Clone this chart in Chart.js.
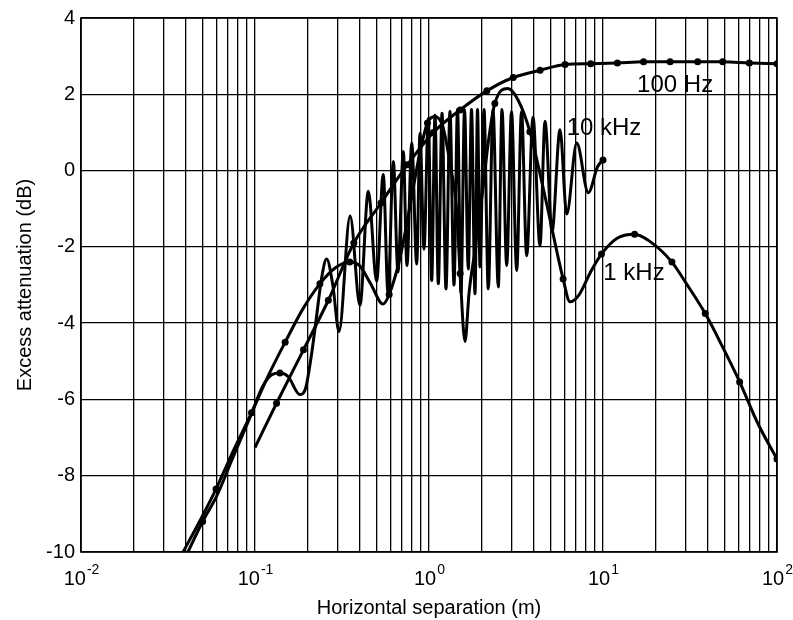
<!DOCTYPE html>
<html>
<head>
<meta charset="utf-8">
<script src="https://cdn.jsdelivr.net/npm/chart.js@4.4.1/dist/chart.umd.min.js"></script>
<style>
  html, body { margin: 0; padding: 0; background: #fff; }
</style>
</head>
<body>
<canvas id="chart" width="793" height="620"></canvas>
<script>
// x: horizontal separation (m), y: excess attenuation (dB)
const hz100X = [0.1, 0.133, 0.19, 0.264, 0.37, 0.53, 0.75, 1.06, 1.51, 2.15, 3.05, 4.35, 6.05, 8.5, 12.1, 17.1, 24.3, 35, 48.7, 69.3, 100];
const hz100Y = [-7.26, -6.1, -4.7, -3.4, -1.9, -0.85, 0.15, 1.0, 1.59, 2.09, 2.44, 2.63, 2.78, 2.8, 2.82, 2.85, 2.85, 2.85, 2.85, 2.82, 2.8];
const hz100Markers = [0.133, 0.19, 0.264, 0.37, 0.53, 0.75, 1.06, 1.51, 2.15, 3.05, 4.35, 6.05, 8.5, 12.1, 17.1, 24.3, 35, 48.7, 69.3, 100];

const khz1X = [0.0386, 0.048, 0.0597, 0.075, 0.0955, 0.12, 0.149, 0.19, 0.236, 0.29, 0.35, 0.4, 0.46, 0.545, 0.59, 0.68, 0.78, 0.88, 0.98, 1.08, 1.2, 1.33, 1.44, 1.51, 1.61, 1.7, 1.85, 2.05, 2.2, 2.39, 2.84, 3.25, 3.8, 4.68, 5.9, 6.46, 7.3, 8.5, 9.8, 12, 15.2, 18.5, 24.9, 30, 38.7, 49, 61, 78, 100];
const khz1Y = [-10, -9.2, -8.35, -7.35, -6.35, -5.35, -4.5, -3.6, -2.97, -2.55, -2.4, -2.5, -2.95, -3.5, -3.25, -2.3, -0.9, 0.4, 1.25, 1.42, 1.16, 0.1, -1.0, -2.7, -4.48, -3.2, -2.0, -0.4, 0.8, 1.76, 2.15, 1.85, 1.02, -0.75, -2.84, -3.44, -3.25, -2.65, -2.19, -1.78, -1.67, -1.85, -2.4, -2.95, -3.75, -4.65, -5.54, -6.65, -7.56];
const khz1Markers = [0.0597, 0.0955, 0.149, 0.236, 0.35, 0.59, 0.98, 1.51, 2.39, 3.8, 5.9, 9.8, 15.2, 24.9, 38.7, 61, 100];

const khz10X = [0.0412, 0.05, 0.06, 0.075, 0.094, 0.111, 0.125, 0.139, 0.155, 0.181, 0.194, 0.21, 0.225, 0.241, 0.258, 0.28, 0.304,
  0.352, 0.401, 0.448, 0.50, 0.546, 0.581, 0.624, 0.663, 0.712, 0.747, 0.796, 0.85, 0.888, 0.936, 0.991, 1.036, 1.083, 1.131,
  1.188, 1.252, 1.32, 1.392, 1.458, 1.527, 1.60, 1.682, 1.755, 1.838, 1.90, 1.964, 2.071, 2.192, 2.332, 2.502, 2.627, 2.796,
  2.98, 3.192, 3.401, 3.643, 3.96, 4.344, 4.642, 5.093, 5.662, 6.185, 7.063, 8.234, 9.3, 10];
const khz10Y = [-10, -9.2, -8.55, -7.5, -6.45, -5.65, -5.35, -5.31, -5.4, -5.87, -5.75, -4.9, -3.88, -2.84, -2.32, -3.0, -4.22,
  -1.19, -3.53, -0.54, -2.9, -0.1, -3.2, 0.24, -2.66, 0.5, -2.49, 0.72, -2.45, 0.98, -2.06, 1.37, -2.88, 1.45, -2.97,
  1.5, -3.1, 1.55, -3.0, 1.6, -3.2, 1.6, -2.58, 1.6, -3.23, 1.6, -2.53, 1.6, -3.1, 1.6, -3.05, 1.6, -2.49,
  1.55, -2.62, 1.55, -2.23, 1.4, -1.97, 1.29, -1.6, 1.07, -1.14, 0.72, -0.58, 0.1, 0.28];
const khz10Markers = [0.05, 0.139, 10];

const seriesNames = ['100 Hz', '1 kHz', '10 kHz'];
const xDecades = [0.01, 0.1, 1, 10, 100];
const xExponents = ['-2', '-1', '0', '1', '2'];
const curveLabelX = [15.7, 10.04, 6.18];
const curveLabelY = [2.07, -2.88, 0.94];

const FONT = '"Liberation Sans", Arial, Helvetica, sans-serif';
Chart.defaults.font.family = FONT;
Chart.defaults.color = '#000';

function toPoints(xs, ys) {
  return xs.map((x, i) => ({ x: x, y: ys[i] }));
}

// grid lines at 1..9 x 10^k
const xGrid = [];
xDecades.forEach((d, i) => {
  if (i === xDecades.length - 1) { xGrid.push(d); return; }
  for (let m = 1; m <= 9; m++) xGrid.push(+(m * d).toPrecision(3));
});

function lineSet(label, xs, ys, markers) {
  return {
    label: label,
    data: toPoints(xs, ys),
    borderColor: '#000',
    backgroundColor: '#000',
    borderWidth: 3,
    cubicInterpolationMode: 'monotone',
    pointRadius: ctx => (ctx.raw && markers.includes(ctx.raw.x)) ? 3.5 : 0,
    pointBackgroundColor: '#000',
    pointBorderWidth: 0,
    fill: false
  };
}

const overlay = {
  id: 'overlay',
  afterDraw(chart) {
    const { ctx, chartArea: a, scales: { x, y } } = chart;
    ctx.save();
    ctx.strokeStyle = '#000';
    ctx.lineWidth = 1.6;
    ctx.strokeRect(a.left, a.top, a.right - a.left, a.bottom - a.top);

    ctx.fillStyle = '#000';
    ctx.textBaseline = 'alphabetic';
    ctx.textAlign = 'left';
    xDecades.forEach((v, i) => {
      ctx.font = '20px ' + FONT;
      const wb = ctx.measureText('10').width;
      ctx.font = '14px ' + FONT;
      const we = ctx.measureText(xExponents[i]).width;
      const left = x.getPixelForValue(v) - (wb + we) / 2;
      ctx.font = '20px ' + FONT;
      ctx.fillText('10', left, a.bottom + 33);
      ctx.font = '14px ' + FONT;
      ctx.fillText(xExponents[i], left + wb + 1, a.bottom + 22);
    });

    ctx.font = '24px ' + FONT;
    seriesNames.forEach((name, i) => {
      ctx.fillText(name, x.getPixelForValue(curveLabelX[i]), y.getPixelForValue(curveLabelY[i]));
    });
    ctx.restore();
  }
};

new Chart(document.getElementById('chart'), {
  type: 'line',
  data: {
    datasets: [
      lineSet(seriesNames[0], hz100X, hz100Y, hz100Markers),
      lineSet(seriesNames[1], khz1X, khz1Y, khz1Markers),
      lineSet(seriesNames[2], khz10X, khz10Y, khz10Markers)
    ]
  },
  options: {
    responsive: false,
    animation: false,
    events: [],
    layout: { padding: { left: 0, right: 16, top: 14, bottom: 0 } },
    plugins: { legend: { display: false }, tooltip: { enabled: false } },
    scales: {
      x: {
        type: 'logarithmic',
        min: 0.01,
        max: 100,
        afterBuildTicks: s => { s.ticks = xGrid.map(v => ({ value: v })); },
        afterFit: s => { s.height = 68; },
        grid: { color: '#000', lineWidth: 1.3, drawTicks: false },
        border: { display: false },
        ticks: { autoSkip: false, maxRotation: 0, callback: () => '' },
        title: { display: true, text: 'Horizontal separation (m)', color: '#000', font: { size: 20 }, padding: { top: 3, bottom: 0 } }
      },
      y: {
        min: -10,
        max: 4,
        afterFit: s => { s.width = 81; },
        grid: { color: '#000', lineWidth: 1.3, drawTicks: false },
        border: { display: false },
        ticks: { stepSize: 2, padding: 6, color: '#000', font: { size: 20 } },
        title: { display: true, text: 'Excess attenuation (dB)', color: '#000', font: { size: 20 }, padding: { top: 13, bottom: 0 } }
      }
    }
  },
  plugins: [overlay]
});
</script>
</body>
</html>
